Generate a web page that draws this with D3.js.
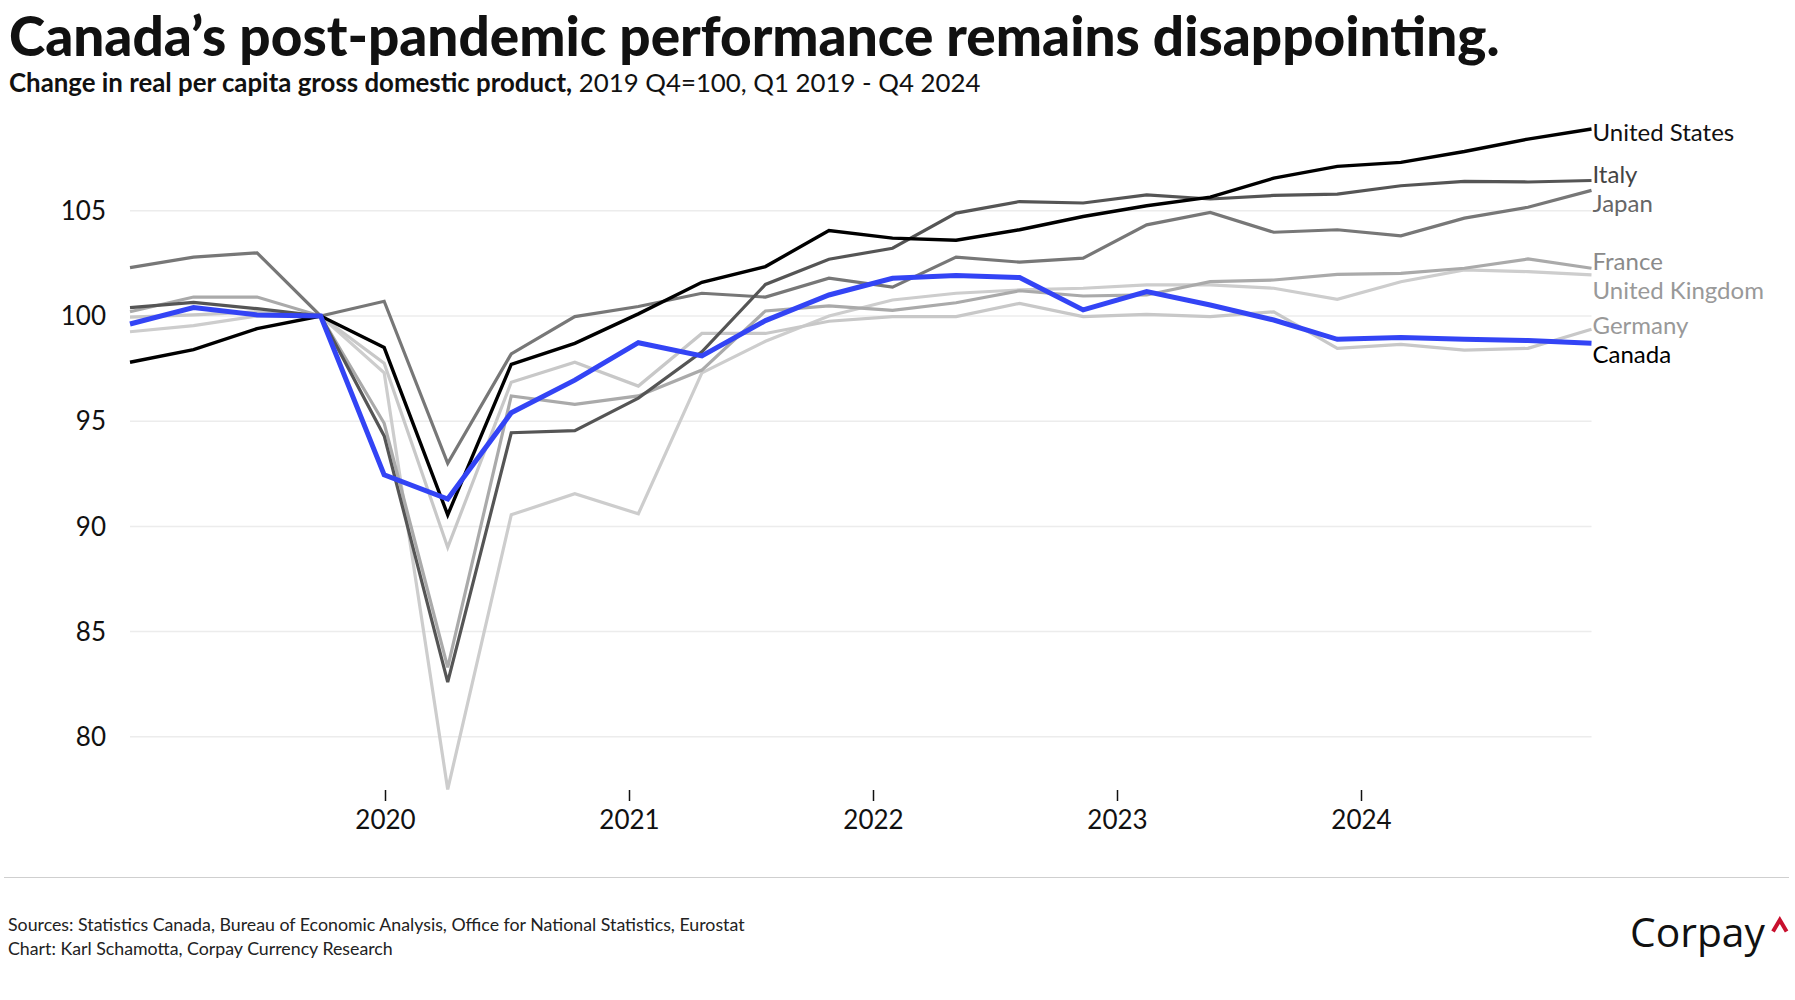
<!DOCTYPE html>
<html>
<head>
<meta charset="utf-8">
<script src="https://cdnjs.cloudflare.com/ajax/libs/d3/7.8.5/d3.min.js"></script>
<style>
  body { margin: 0; background: #fff; }
  svg { display: block; font-family: Lato, "Open Sans", sans-serif; }
</style>
</head>
<body>
<svg id="chart" width="1795" height="1000"></svg>
<script>
// quarterly index, 2019 Q4 = 100
var quarters = ['2019 Q1','2019 Q2','2019 Q3','2019 Q4','2020 Q1','2020 Q2','2020 Q3','2020 Q4',
                '2021 Q1','2021 Q2','2021 Q3','2021 Q4','2022 Q1','2022 Q2','2022 Q3','2022 Q4',
                '2023 Q1','2023 Q2','2023 Q3','2023 Q4','2024 Q1','2024 Q2','2024 Q3','2024 Q4'];

var unitedStates  = [97.8, 98.4, 99.4, 100, 98.5, 90.55, 97.7, 98.7, 100.1, 101.6, 102.35, 104.06,
                     103.7, 103.6, 104.1, 104.73, 105.24, 105.65, 106.55, 107.11, 107.3, 107.82, 108.41, 108.89];
var italy         = [100.4, 100.65, 100.35, 100, 94.3, 82.6, 94.45, 94.55, 96.1, 98.3, 101.5, 102.7,
                     103.22, 104.89, 105.44, 105.37, 105.76, 105.56, 105.73, 105.79, 106.19, 106.4, 106.37, 106.44];
var japan         = [102.3, 102.8, 103.0, 100, 100.7, 93.0, 98.2, 99.97, 100.45, 101.08, 100.9, 101.8,
                     101.37, 102.8, 102.56, 102.75, 104.33, 104.92, 103.98, 104.1, 103.81, 104.65, 105.17, 105.97];
var france        = [100.2, 100.9, 100.9, 100, 94.9, 83.3, 96.2, 95.8, 96.2, 97.43, 100.24, 100.48,
                     100.27, 100.63, 101.2, 100.95, 101.0, 101.63, 101.71, 101.98, 102.03, 102.27, 102.71, 102.27];
var unitedKingdom = [99.25, 99.54, 100.0, 100, 97.3, 77.5, 90.55, 91.55, 90.6, 97.3, 98.8, 100.0,
                     100.76, 101.08, 101.24, 101.32, 101.48, 101.48, 101.32, 100.79, 101.63, 102.19, 102.11, 101.95];
var germany       = [99.95, 100.05, 100.2, 100, 97.75, 89.0, 96.85, 97.8, 96.67, 99.17, 99.17, 99.75,
                     99.97, 99.97, 100.6, 99.97, 100.08, 99.97, 100.2, 98.46, 98.65, 98.38, 98.46, 99.37];
var canada        = [99.62, 100.4, 100.05, 100, 92.45, 91.3, 95.4, 96.95, 98.73, 98.1, 99.78, 101.0,
                     101.79, 101.92, 101.83, 100.29, 101.16, 100.52, 99.81, 98.89, 98.98, 98.89, 98.83, 98.7];

var countries = ['United Kingdom', 'Germany', 'France', 'Japan', 'Italy', 'United States', 'Canada'];
var seriesValues = [unitedKingdom, germany, france, japan, italy, unitedStates, canada];

var yTicks = [80, 85, 90, 95, 100, 105];
var xTickYears = [2020, 2021, 2022, 2023, 2024];

var titleText = 'Canada\u2019s post-pandemic performance remains disappointing.';
var subtitleBold = 'Change in real per capita gross domestic product,';
var subtitleRest = ' 2019 Q4=100, Q1 2019 - Q4 2024';
var sourceText = 'Sources: Statistics Canada, Bureau of Economic Analysis, Office for National Statistics, Eurostat';
var creditText = 'Chart: Karl Schamotta, Corpay Currency Research';

// look of each line
var styles = {
  'United States':  { stroke: '#000000', width: 3.4, label: '#111111' },
  'Italy':          { stroke: '#555555', width: 3.2, label: '#444444' },
  'Japan':          { stroke: '#777777', width: 3.2, label: '#666666' },
  'France':         { stroke: '#aaaaaa', width: 3.2, label: '#8a8a8a' },
  'United Kingdom': { stroke: '#cdcdcd', width: 3.2, label: '#999999' },
  'Germany':        { stroke: '#c8c8c8', width: 3.2, label: '#999999' },
  'Canada':         { stroke: '#3344f5', width: 5,   label: '#000000' }
};

var svg = d3.select('#chart');
svg.append('rect').attr('width', 1795).attr('height', 1000).attr('fill', '#fff');

function fitWidth(sel, target) {
  var fs = parseFloat(sel.attr('font-size'));
  var w = sel.node().getComputedTextLength();
  sel.attr('font-size', fs * target / w);
}

// title block
var title = svg.append('text')
  .attr('x', 9).attr('y', 56)
  .attr('font-size', 56).attr('font-weight', 900).attr('fill', '#111')
  .text(titleText);
fitWidth(title, 1491);

var sub = svg.append('text').attr('x', 9).attr('y', 92).attr('font-size', 24).attr('fill', '#111');
sub.append('tspan').attr('font-weight', 700).text(subtitleBold);
sub.append('tspan').text(subtitleRest);
fitWidth(sub, 972);

// scales
var x = d3.scaleLinear().domain([0, quarters.length - 1]).range([130, 1591.5]);
var xYear = d3.scaleLinear().domain([2020, 2024]).range([385, 1361]);
var y = d3.scaleLinear().domain([80, 105]).range([736.8, 210.8]);

// gridlines + y labels
var grid = svg.append('g');
grid.selectAll('line').data(yTicks).enter().append('line')
  .attr('x1', x(0)).attr('x2', x(quarters.length - 1))
  .attr('y1', function(d) { return y(d); }).attr('y2', function(d) { return y(d); })
  .attr('stroke', '#ececec').attr('stroke-width', 1.5);
grid.selectAll('text').data(yTicks).enter().append('text')
  .attr('x', 106).attr('y', function(d) { return y(d); })
  .attr('dy', '0.35em').attr('text-anchor', 'end')
  .attr('font-size', 26).attr('fill', '#111')
  .text(function(d) { return d; });

// x axis: small ticks + year labels
var xAxis = svg.append('g').attr('transform', 'translate(0,790)')
  .call(d3.axisBottom(xYear).tickValues(xTickYears).tickFormat(d3.format('d')).tickSize(11).tickPadding(10));
xAxis.select('.domain').remove();
xAxis.selectAll('.tick line').attr('stroke', '#111').attr('stroke-width', 1.5);
xAxis.selectAll('.tick text').attr('font-size', 26).attr('fill', '#111')
  .attr('font-family', 'Lato, "Open Sans", sans-serif');

// lines
var line = d3.line()
  .x(function(d, i) { return x(i); })
  .y(function(d) { return y(d); });

var lines = svg.append('g');
countries.forEach(function(name, k) {
  lines.append('path')
    .datum(seriesValues[k])
    .attr('d', line)
    .attr('fill', 'none')
    .attr('stroke', styles[name].stroke)
    .attr('stroke-width', styles[name].width)
    .attr('stroke-linejoin', 'miter');
});

// end labels, nudged apart when they collide
var labels = countries.map(function(name, k) {
  var v = seriesValues[k];
  return { name: name, y: y(v[v.length - 1]) + 4 };
}).sort(function(a, b) { return a.y - b.y; });
var gap = 29;
for (var iter = 0; iter < 20; iter++) {
  for (var i = 1; i < labels.length; i++) {
    var over = labels[i - 1].y + gap - labels[i].y;
    if (over > 0) {
      labels[i - 1].y -= over / 2;
      labels[i].y += over / 2;
    }
  }
}
svg.append('g').selectAll('text').data(labels).enter().append('text')
  .attr('x', x(quarters.length - 1) + 1)
  .attr('y', function(d) { return d.y; })
  .attr('dy', '0.35em')
  .attr('font-size', 24)
  .attr('fill', function(d) { return styles[d.name].label; })
  .text(function(d) { return d.name; });

// footer
svg.append('line').attr('x1', 4).attr('x2', 1789).attr('y1', 877.5).attr('y2', 877.5)
  .attr('stroke', '#cfcfcf').attr('stroke-width', 1.2);
var src = svg.append('text').attr('x', 8).attr('y', 931).attr('font-size', 17).attr('fill', '#222').text(sourceText);
fitWidth(src, 737);
var cred = svg.append('text').attr('x', 8).attr('y', 955).attr('font-size', src.attr('font-size')).attr('fill', '#222').text(creditText);

var logo = svg.append('text').attr('x', 1630).attr('y', 946.5)
  .attr('font-size', 37).attr('fill', '#111').attr('font-family', '"Open Sans", Lato, sans-serif')
  .text('Corpay');
fitWidth(logo, 135);
svg.append('path')
  .attr('d', 'M1773,931.5 L1779.8,920 L1786.6,931.5')
  .attr('fill', 'none').attr('stroke', '#c8102e').attr('stroke-width', 4).attr('stroke-linejoin', 'miter');
</script>
</body>
</html>
